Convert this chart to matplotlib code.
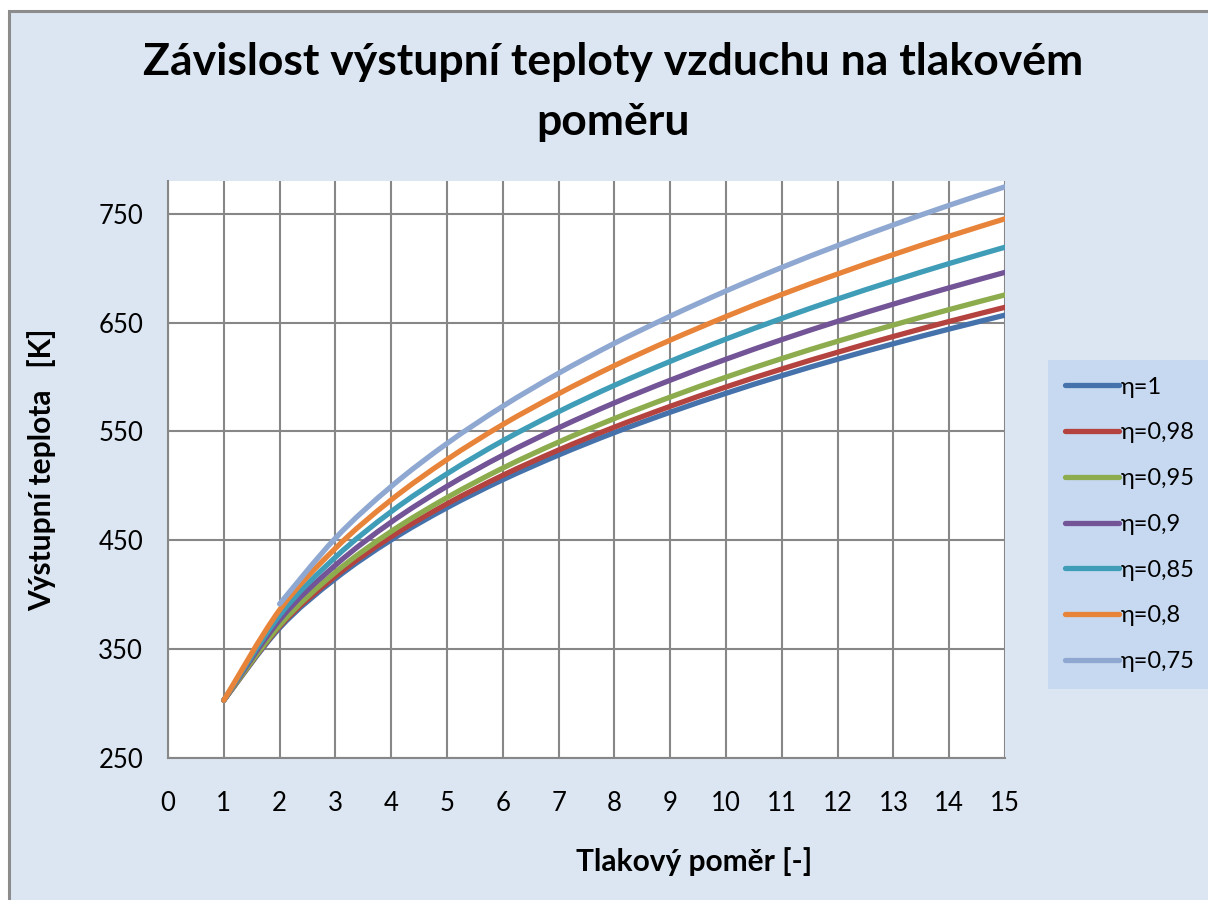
import matplotlib
matplotlib.use("Agg")
import matplotlib.pyplot as plt
from matplotlib.path import Path
from matplotlib.patches import PathPatch, Rectangle
from matplotlib.lines import Line2D

plt.rcParams['font.family'] = ['Lato', 'DejaVu Sans']

# tlakový poměr
pomer = [1, 2, 3, 4, 5, 6, 7, 8, 9, 10, 11, 12, 13, 14, 15]

# výstupní teplota [K] pro jednotlivé účinnosti
t_100 = [303, 369.4, 414.7, 450.3, 479.9, 505.6, 528.3, 548.9, 567.6, 585.0, 601.2, 616.3, 630.5, 644.0, 656.8]
t_098 = [303, 370.8, 417.0, 453.3, 483.5, 509.7, 532.9, 553.9, 573.0, 590.8, 607.3, 622.7, 637.2, 651.0, 664.0]
t_095 = [303, 371.9, 420.6, 458.1, 489.2, 516.3, 540.2, 561.8, 581.5, 599.8, 616.9, 632.8, 647.7, 661.9, 675.4]
t_090 = [303, 376.8, 427.1, 466.7, 499.6, 528.1, 553.3, 576.2, 597.0, 616.3, 634.3, 651.1, 666.9, 681.9, 696.1]
t_085 = [303, 381.1, 434.4, 476.3, 511.1, 541.4, 568.1, 592.3, 614.3, 634.8, 653.8, 671.6, 688.3, 704.2, 719.2]
t_080 = [303, 386.0, 442.6, 487.1, 524.1, 556.3, 584.6, 610.4, 633.8, 655.5, 675.8, 694.6, 712.4, 729.3, 745.3]
# η=0,75 začíná až od poměru 2
pomer_075 = [2, 3, 4, 5, 6, 7, 8, 9, 10, 11, 12, 13, 14, 15]
t_075 = [391.5, 451.9, 499.4, 538.9, 573.1, 603.4, 630.9, 655.8, 679.0, 700.6, 720.7, 739.7, 757.7, 774.7]

nazvy = ['η=1', 'η=0,98', 'η=0,95', 'η=0,9', 'η=0,85', 'η=0,8', 'η=0,75']
barvy = ['#4672AC', '#B4433F', '#8DAC4E', '#735496', '#3F9DB8', '#E8843A', '#8FA8D2']
serie = [(pomer, t_100), (pomer, t_098), (pomer, t_095), (pomer, t_090),
         (pomer, t_085), (pomer, t_080), (pomer_075, t_075)]


def hladka_cesta(xs, ys):
    """vyhlazená křivka jako v Excelu (Bezier přes body)"""
    pts = list(zip(xs, ys))
    n = len(pts)
    verts = [pts[0]]
    codes = [Path.MOVETO]
    for i in range(n - 1):
        p0 = pts[i - 1] if i > 0 else pts[i]
        p1 = pts[i]
        p2 = pts[i + 1]
        p3 = pts[i + 2] if i + 2 < n else pts[i + 1]
        c1 = (p1[0] + (p2[0] - p0[0]) / 6, p1[1] + (p2[1] - p0[1]) / 6)
        c2 = (p2[0] - (p3[0] - p1[0]) / 6, p2[1] - (p3[1] - p1[1]) / 6)
        verts += [c1, c2, p2]
        codes += [Path.CURVE4] * 3
    return Path(verts, codes)


fig = plt.figure(figsize=(12.08, 9), dpi=100, facecolor='white')
fig.patches.append(Rectangle((9 / 1208, -0.01), 1.02, 1 - 11 / 900 + 0.01,
                             transform=fig.transFigure, facecolor='#DCE6F2',
                             edgecolor='#8C8C8C', linewidth=2.2, zorder=-5))

ax = fig.add_axes([168 / 1208, 1 - 758 / 900, (1005 - 168) / 1208, (758 - 181) / 900])
ax.set_facecolor('white')

for (xs, ys), barva, nazev in zip(serie, barvy, nazvy):
    ax.add_patch(PathPatch(hladka_cesta(xs, ys), fill=False, edgecolor=barva,
                           linewidth=3.8, capstyle='round', joinstyle='round', zorder=3))

ax.set_xlim(0, 15)
ax.set_ylim(250, 780)
ax.set_xticks(range(0, 16))
ax.set_yticks([250, 350, 450, 550, 650, 750])
ax.grid(True, color='#878787', linewidth=1.5)
ax.set_axisbelow(True)
for s in ['top', 'right']:
    ax.spines[s].set_visible(False)
for s in ['left', 'bottom']:
    ax.spines[s].set_color('#878787')
    ax.spines[s].set_linewidth(1.5)
ax.tick_params(axis='both', length=0, labelsize=18.5, colors='black')
ax.tick_params(axis='y', pad=18)
ax.tick_params(axis='x', pad=24)

fig.text(613 / 1208, 1 - 62 / 900, 'Závislost výstupní teploty vzduchu na tlakovém',
         ha='center', va='center', fontsize=32, fontweight='bold')
fig.text(613 / 1208, 1 - 122 / 900, 'poměru',
         ha='center', va='center', fontsize=32, fontweight='bold')
fig.text(694 / 1208, 1 - 862 / 900, 'Tlakový poměr [-]',
         ha='center', va='center', fontsize=21.5, fontweight='bold')
fig.text(42 / 1208, 1 - 470 / 900, 'Výstupní teplota   [K]', rotation=90,
         ha='center', va='center', fontsize=21.5, fontweight='bold')

handles = [Line2D([], [], color=b, linewidth=3.8, solid_capstyle='round') for b in barvy]
leg = ax.legend(handles, nazvy, loc='upper left',
                bbox_to_anchor=(1048 / 1208, 1 - 360 / 900), bbox_transform=fig.transFigure,
                borderaxespad=0, fontsize=17, frameon=True, fancybox=False,
                handlelength=2.3, handletextpad=0.1, labelspacing=1.05,
                borderpad=0.7)
leg.get_frame().set_facecolor('#C6D9F1')
leg.get_frame().set_edgecolor('none')
leg.get_frame().set_alpha(1)

fig.savefig('out.png', dpi=100, facecolor=fig.get_facecolor())
